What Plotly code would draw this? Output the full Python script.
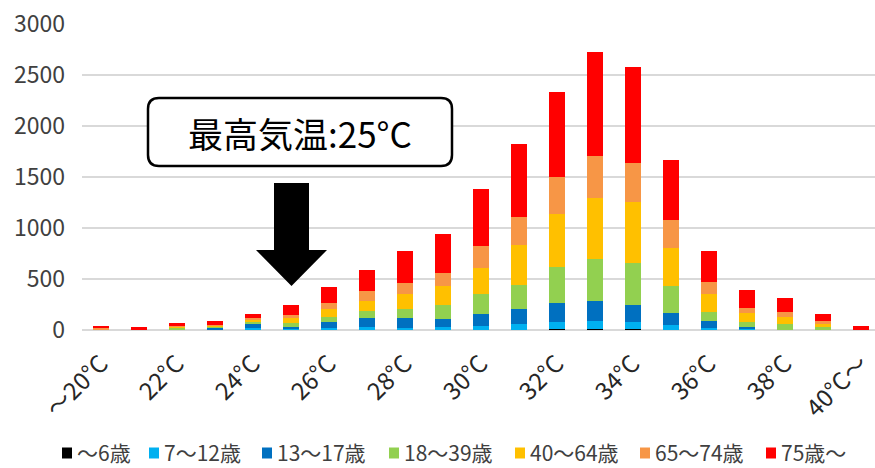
import plotly.graph_objects as go

# Daily maximum temperature bins
categories = ["～20°C"] + [f"{t}°C" for t in range(21, 40)] + ["40°C～"]
tick_labels = ["～20°C", "22°C", "24°C", "26°C", "28°C", "30°C",
               "32°C", "34°C", "36°C", "38°C", "40°C～"]
tick_positions = categories[::2]

# Counts per age group, one value per temperature bin
age_0_6   = [0, 0, 0, 0, 0, 1, 1, 1, 2, 2, 3, 4, 5, 6, 5, 3, 1, 1, 0, 0, 0]
age_7_12  = [0, 0, 2, 3, 15, 5, 20, 33, 20, 30, 33, 58, 70, 82, 70, 46, 22, 4, 1, 0, 0]
age_13_17 = [0, 0, 6, 20, 44, 23, 54, 81, 93, 73, 121, 144, 187, 199, 173, 121, 65, 21, 3, 0, 0]
age_18_39 = [3, 0, 14, 10, 22, 37, 52, 68, 94, 140, 199, 238, 355, 412, 409, 264, 91, 49, 58, 26, 0]
age_40_64 = [6, 1, 10, 10, 20, 49, 79, 104, 144, 186, 249, 386, 523, 592, 597, 370, 174, 92, 65, 36, 0]
age_65_74 = [14, 3, 10, 10, 17, 29, 56, 92, 105, 131, 221, 274, 363, 412, 380, 274, 117, 52, 52, 26, 3]
age_75_up = [16, 21, 23, 36, 39, 104, 156, 212, 319, 382, 559, 716, 832, 1024, 941, 585, 307, 173, 134, 69, 33]

series_names = ["～6歳", "7～12歳", "13～17歳", "18～39歳", "40～64歳", "65～74歳", "75歳～"]
series_values = [age_0_6, age_7_12, age_13_17, age_18_39, age_40_64, age_65_74, age_75_up]
series_colors = ["#000000", "#00B0F0", "#0070C0", "#92D050", "#FFC000", "#F79646", "#FF0000"]

FONT = "Noto Sans CJK JP, sans-serif"

fig = go.Figure()
for name, vals, color in zip(series_names, series_values, series_colors):
    fig.add_trace(go.Bar(
        x=categories, y=vals, name=name, showlegend=False,
        marker=dict(color=color, line=dict(width=0)),
    ))

# plot area geometry in pixels (used for the callout, arrow and key)
W, H = 875, 468
L, R, T, B = 82, 0, 24, 138
PW, PH = W - L - R, H - T - B


def to_paper(x, y):
    return (x - L) / PW, (H - B - y) / PH


def path_from(points_cmds):
    out = []
    for cmd, pts in points_cmds:
        coords = " ".join(f"{a:.5f},{b:.5f}" for a, b in (to_paper(*p) for p in pts))
        out.append(f"{cmd}{coords}" if coords else cmd)
    return " ".join(out)


# rounded callout box
x0, y0, x1, y1, r = 148, 98, 452, 166, 11
box = path_from([
    ("M", [(x0 + r, y0)]), ("L", [(x1 - r, y0)]), ("Q", [(x1, y0), (x1, y0 + r)]),
    ("L", [(x1, y1 - r)]), ("Q", [(x1, y1), (x1 - r, y1)]),
    ("L", [(x0 + r, y1)]), ("Q", [(x0, y1), (x0, y1 - r)]),
    ("L", [(x0, y0 + r)]), ("Q", [(x0, y0), (x0 + r, y0)]), ("Z", []),
])
fig.add_shape(type="path", path=box, xref="paper", yref="paper",
              line=dict(color="black", width=2.5), fillcolor="white", layer="above")

# downward arrow pointing at the 25°C bar
arrow = path_from([
    ("M", [(274, 183)]), ("L", [(309, 183)]), ("L", [(309, 250)]), ("L", [(327, 250)]),
    ("L", [(291.5, 286)]), ("L", [(256, 250)]), ("L", [(274, 250)]), ("Z", []),
])
fig.add_shape(type="path", path=arrow, xref="paper", yref="paper",
              line=dict(color="black", width=0), fillcolor="black", layer="above")

bx, by = to_paper(300, 132)
fig.add_annotation(x=bx, y=by, xref="paper", yref="paper", text="最高気温:25°C",
                   showarrow=False, font=dict(family=FONT, size=35, color="#000000"),
                   xanchor="center", yanchor="middle")

# key along the bottom: swatch + label per age group
key_left = [62, 149, 262, 389, 515, 640, 766]
key_y = 453
for kx, name, color in zip(key_left, series_names, series_colors):
    sx0, sy0 = to_paper(kx, key_y - 5.5)
    sx1, sy1 = to_paper(kx + 10, key_y + 5.5)
    fig.add_shape(type="rect", xref="paper", yref="paper",
                  x0=sx0, x1=sx1, y0=sy1, y1=sy0,
                  line=dict(width=0), fillcolor=color)
    tx, ty = to_paper(kx + 14, key_y - 1)
    fig.add_annotation(x=tx, y=ty, xref="paper", yref="paper", text=name,
                       showarrow=False, xanchor="left", yanchor="middle",
                       borderpad=0,
                       font=dict(family=FONT, size=21, color="#404040"))

fig.update_layout(
    width=W, height=H,
    margin=dict(l=L, r=R, t=T, b=B, autoexpand=False),
    barmode="stack", bargap=0.58,
    plot_bgcolor="white", paper_bgcolor="white",
    font=dict(family=FONT, size=22, color="#404040"),
    showlegend=False,
)
fig.update_xaxes(
    type="category", range=[-0.5, 20.37],
    tickmode="array", tickvals=tick_positions, ticktext=tick_labels,
    tickangle=-45, showgrid=False, showline=False, ticks="",
    ticklabelstandoff=14,
    tickfont=dict(size=24, color="#262626"),
)
fig.update_yaxes(
    range=[0, 3000], tickmode="linear", tick0=0, dtick=500,
    showgrid=True, gridcolor="#D9D9D9", gridwidth=2,
    zeroline=True, zerolinecolor="#D9D9D9", zerolinewidth=2,
    showline=False, ticks="", ticklabelstandoff=16,
    tickfont=dict(size=23, color="#404040"),
)

fig.write_html("out.html")
